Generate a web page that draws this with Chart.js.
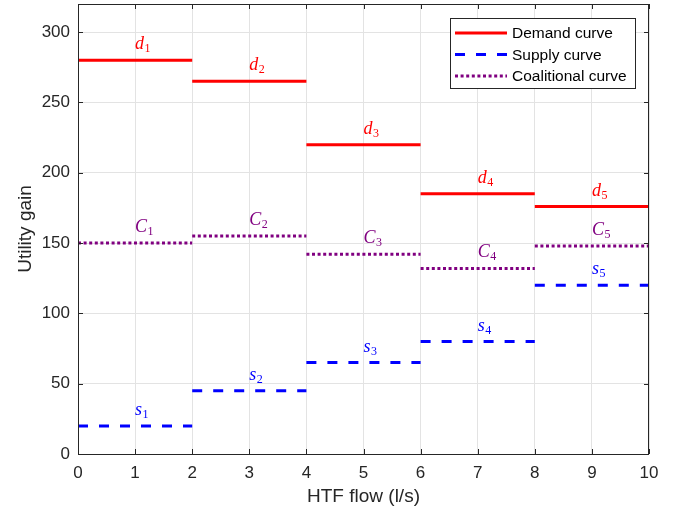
<!DOCTYPE html>
<html>
<head>
<meta charset="utf-8">
<script src="https://cdn.jsdelivr.net/npm/chart.js@4"></script>
<style>
  body { margin: 0; background: #fff; }
  canvas { display: block; }
</style>
</head>
<body>
<canvas id="myChart" width="679" height="513"></canvas>
<script>
// Segment edges on the x axis (HTF flow, l/s)
let flowEdges = [0, 2, 4, 6, 8, 10];

// Values for each of the 5 segments
let demand = [280, 265, 220, 185, 176];
let supply = [20, 45, 65, 80, 120];
let coalitional = [150, 155, 142, 132, 148];

// Tick labels
let xTicks = [0, 1, 2, 3, 4, 5, 6, 7, 8, 9, 10];
let yTicks = [0, 50, 100, 150, 200, 250, 300];

// Series names and segment label letters
let seriesNames = ["Demand curve", "Supply curve", "Coalitional curve"];
let labelLetters = ["d", "s", "C"];

const axisColor = "#262626";
const sansFamily = "Liberation Sans, Arial, sans-serif";
const tickFont = { family: sansFamily, size: 17 };
const titleFont = { family: sansFamily, size: 19 };

// Turn segment values into points, with a null to break between segments
function toSegments(values) {
  let pts = [];
  for (let i = 0; i < values.length; i++) {
    pts.push({ x: flowEdges[i], y: values[i] });
    pts.push({ x: flowEdges[i + 1], y: values[i] });
    pts.push({ x: flowEdges[i + 1], y: null });
  }
  return pts;
}

// Box with inward ticks on all four sides
const boxPlugin = {
  id: "box",
  afterDraw(chart) {
    const { ctx, chartArea: a, scales } = chart;
    ctx.save();
    ctx.strokeStyle = axisColor;
    ctx.lineWidth = 1;
    ctx.strokeRect(a.left + 0.5, a.top + 0.5, a.right - a.left - 1, a.bottom - a.top);
    ctx.beginPath();
    xTicks.forEach(v => {
      let px = Math.round(scales.x.getPixelForValue(v)) + 0.5;
      ctx.moveTo(px, a.bottom); ctx.lineTo(px, a.bottom - 5);
      ctx.moveTo(px, a.top); ctx.lineTo(px, a.top + 5);
    });
    yTicks.forEach(v => {
      let py = Math.round(scales.y.getPixelForValue(v)) + 0.5;
      ctx.moveTo(a.left, py); ctx.lineTo(a.left + 5, py);
      ctx.moveTo(a.right, py); ctx.lineTo(a.right - 5, py);
    });
    ctx.stroke();
    ctx.restore();
  }
};

// Math-style labels (d_i, s_i, C_i) above each segment
const segLabelPlugin = {
  id: "segLabels",
  afterDatasetsDraw(chart) {
    const { ctx, scales } = chart;
    const allValues = [demand, supply, coalitional];
    ctx.save();
    ctx.textBaseline = "alphabetic";
    ctx.textAlign = "left";
    allValues.forEach((values, k) => {
      ctx.fillStyle = chart.data.datasets[k].borderColor;
      values.forEach((v, i) => {
        let mid = (flowEdges[i] + flowEdges[i + 1]) / 2;
        let px = scales.x.getPixelForValue(mid);
        let py = scales.y.getPixelForValue(v) - 11;
        ctx.font = "italic 18px 'Liberation Serif', serif";
        ctx.fillText(labelLetters[k], px, py);
        let w = ctx.measureText(labelLetters[k]).width;
        ctx.font = "12px 'Liberation Serif', serif";
        ctx.fillText(String(i + 1), px + w + 0.5, py + 3);
      });
    });
    ctx.restore();
  }
};

// Legend box inside the plot, upper right
const legendPlugin = {
  id: "insideLegend",
  afterDraw(chart) {
    const { ctx, chartArea: a } = chart;
    const bx = a.right - 199, by = a.top + 14, bw = 185, bh = 70;
    ctx.save();
    ctx.fillStyle = "#fff";
    ctx.fillRect(bx, by, bw, bh);
    ctx.strokeStyle = axisColor;
    ctx.lineWidth = 1;
    ctx.strokeRect(bx + 0.5, by + 0.5, bw, bh);
    chart.data.datasets.forEach((ds, i) => {
      let y = by + 15 + i * 21.5;
      ctx.strokeStyle = ds.borderColor;
      ctx.lineWidth = ds.borderWidth;
      ctx.setLineDash(ds.borderDash || []);
      ctx.beginPath();
      ctx.moveTo(bx + 5, y);
      ctx.lineTo(bx + 57, y);
      ctx.stroke();
      ctx.setLineDash([]);
      ctx.fillStyle = "#000";
      ctx.font = "15.5px 'Liberation Sans', Arial, sans-serif";
      ctx.textBaseline = "middle";
      ctx.fillText(seriesNames[i], bx + 62, y + 1);
    });
    ctx.restore();
  }
};

const ctx = document.getElementById("myChart").getContext("2d");
const myChart = new Chart(ctx, {
  type: "line",
  data: {
    datasets: [
      {
        label: seriesNames[0],
        data: toSegments(demand),
        borderColor: "#ff0000",
        borderWidth: 3,
        pointRadius: 0,
        spanGaps: false,
      },
      {
        label: seriesNames[1],
        data: toSegments(supply),
        borderColor: "#0000ff",
        borderWidth: 3,
        borderDash: [10, 11],
        pointRadius: 0,
        spanGaps: false,
      },
      {
        label: seriesNames[2],
        data: toSegments(coalitional),
        borderColor: "#800080",
        borderWidth: 3,
        borderDash: [3, 2.6],
        pointRadius: 0,
        spanGaps: false,
      },
    ],
  },
  options: {
    responsive: false,
    animation: false,
    layout: { padding: { top: 4, right: 30, left: 0, bottom: 0 } },
    plugins: {
      legend: { display: false },
      tooltip: { enabled: false },
    },
    scales: {
      x: {
        type: "linear",
        min: 0,
        max: 10,
        afterBuildTicks: s => { s.ticks = xTicks.map(v => ({ value: v })); },
        ticks: { color: axisColor, font: tickFont, padding: 9, maxRotation: 0 },
        grid: { color: "#e3e3e3", drawTicks: false },
        border: { display: false },
        title: {
          display: true,
          text: "HTF flow (l/s)",
          color: axisColor,
          font: titleFont,
          padding: { top: 0, bottom: 5 },
        },
        afterFit: s => {
          s.height = 59;
          s.paddingLeft = 0;
          s.paddingRight = 0;
        },
      },
      y: {
        type: "linear",
        min: 0,
        max: 320,
        afterBuildTicks: s => { s.ticks = yTicks.map(v => ({ value: v })); },
        ticks: { color: axisColor, font: tickFont, padding: 8 },
        grid: { color: "#e3e3e3", drawTicks: false },
        border: { display: false },
        title: {
          display: true,
          text: "Utility gain",
          color: axisColor,
          font: titleFont,
          padding: { top: 14, bottom: 0 },
        },
        afterFit: s => {
          s.width = 78;
          s.paddingTop = 0;
          s.paddingBottom = 0;
        },
      },
    },
  },
  plugins: [segLabelPlugin, boxPlugin, legendPlugin],
});
</script>
</body>
</html>
